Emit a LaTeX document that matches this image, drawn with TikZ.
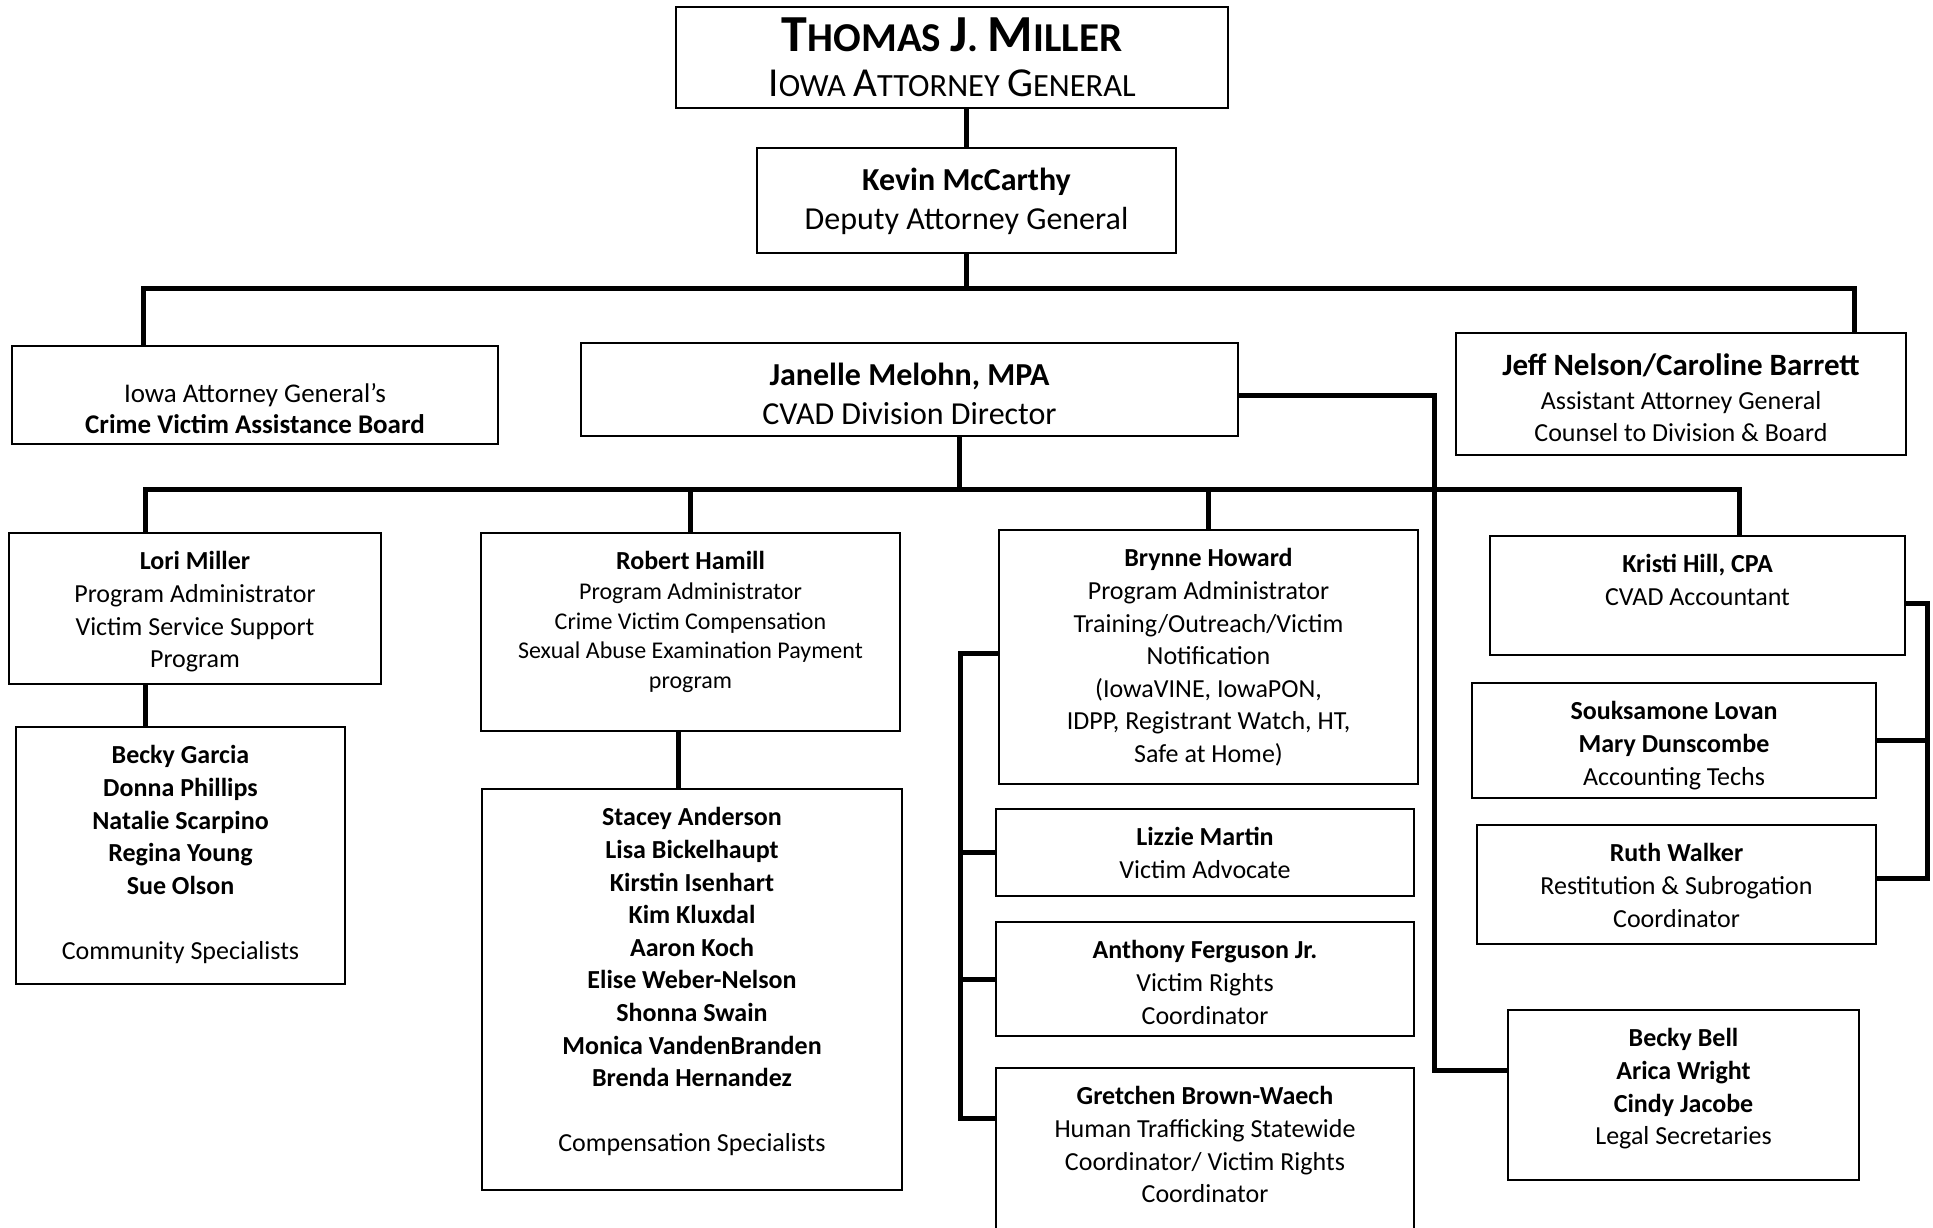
\documentclass[tikz,border=0pt]{standalone}
\usepackage{fontspec}
\setmainfont{Carlito}
\usetikzlibrary{fit,positioning}

\newcommand{\nm}[1]{\textbf{#1}}
\newcommand{\fsz}[2]{\fontsize{#1}{#2}\selectfont}

\begin{document}
\begin{tikzpicture}[x=0.5pt,y=-0.5pt,node distance=9.5pt,
	unit/.style={draw, line width=0.8pt, inner sep=0pt},
	txt/.style={align=center, inner sep=0pt, font=\fsz{13}{16.3}},
	link/.style={line width=2.5pt}]
	\useasboundingbox (0,0) rectangle (1933,1227);
	\clip (0,0) rectangle (1933,1227);
	% boxes
	\node[unit, fit={(676,7) (1228,108)}] (miller) {};
	\node[unit, fit={(757,148) (1176,253)}] (mccarthy) {};
	\node[unit, fit={(12,346) (498,444)}] (board) {};
	\node[unit, fit={(581,343) (1238,436)}] (janelle) {};
	\node[unit, fit={(1456,333) (1906,455)}] (jeff) {};
	\node[unit, fit={(9,533) (381,684)}] (lori) {};
	\node[unit, fit={(16,727) (345,984)}] (garcia) {};
	\node[unit, fit={(481,533) (900,731)}] (robert) {};
	\node[unit, fit={(482,789) (902,1190)}] (stacey) {};
	\node[unit, fit={(999,530) (1418,784)}] (brynne) {};
	\node[unit, fit={(996,809) (1414,896)}] (lizzie) {};
	\node[unit, fit={(996,922) (1414,1036)}] (anthony) {};
	\node[unit, fit={(996,1068) (1414,1240)}] (gretchen) {};
	\node[unit, fit={(1490,536) (1905,655)}] (kristi) {};
	\node[unit, fit={(1472,683) (1876,798)}] (souk) {};
	\node[unit, fit={(1477,825) (1876,944)}] (ruth) {};
	\node[unit, fit={(1508,1010) (1859,1180)}] (bell) {};
	% texts
	\node[txt, below=5.5pt of miller.north, font=\fsz{20.5}{22.8}] (miller-t)
		{\textbf{{\fontsize{26}{30}\selectfont T}HOMAS {\fontsize{26}{30}\selectfont J}. {\fontsize{26}{30}\selectfont M}ILLER}\\
		{\fsz{16.2}{22.8}{\fontsize{20.6}{24}\selectfont I}OWA {\fontsize{20.6}{24}\selectfont A}TTORNEY {\fontsize{20.6}{24}\selectfont G}ENERAL}};
	\node[txt, below=10pt of mccarthy.north, font=\fsz{16}{19.7}] (mccarthy-t)
		{\nm{Kevin McCarthy}\\Deputy Attorney General};
	\node[txt, below=19pt of board.north, font=\fsz{13.5}{15.5}] (board-t)
		{Iowa Attorney General’s\\\nm{Crime Victim Assistance Board}};
	\node[txt, below=10pt of janelle.north, font=\fsz{16}{19.5}] (janelle-t)
		{\nm{Janelle Melohn, MPA}\\CVAD Division Director};
	\node[txt, below=10.5pt of jeff.north, font=\fsz{13}{16}] (jeff-t)
		{{\fsz{15.5}{18}\nm{Jeff Nelson/Caroline Barrett}}\\[1.2pt]Assistant Attorney General\\Counsel to Division \& Board};
	\node[txt, below=of lori.north] (lori-t)
		{\nm{Lori Miller}\\Program Administrator\\Victim Service Support\\Program};
	\node[txt, below=of garcia.north] (garcia-t)
		{\nm{Becky Garcia}\\\nm{Donna Phillips}\\\nm{Natalie Scarpino}\\\nm{Regina Young}\\\nm{Sue Olson}\\[16.3pt]Community Specialists};
	\node[txt, below=of robert.north, font=\fsz{12}{14.8}] (robert-t)
		{{\fsz{13}{15.5}\nm{Robert Hamill}}\\Program Administrator\\Crime Victim Compensation\\Sexual Abuse Examination Payment\\program};
	\node[txt, below=of stacey.north] (stacey-t)
		{\nm{Stacey Anderson}\\\nm{Lisa Bickelhaupt}\\\nm{Kirstin Isenhart}\\\nm{Kim Kluxdal}\\\nm{Aaron Koch}\\\nm{Elise Weber-Nelson}\\\nm{Shonna Swain}\\\nm{Monica VandenBranden}\\\nm{Brenda Hernandez}\\[16.3pt]Compensation Specialists};
	\node[txt, below=of brynne.north] (brynne-t)
		{\nm{Brynne Howard}\\Program Administrator\\Training/Outreach/Victim\\Notification\\(IowaVINE, IowaPON,\\IDPP, Registrant Watch, HT,\\Safe at Home)};
	\node[txt, below=of lizzie.north] (lizzie-t)
		{\nm{Lizzie Martin}\\Victim Advocate};
	\node[txt, below=of anthony.north] (anthony-t)
		{\nm{Anthony Ferguson Jr.}\\Victim Rights\\Coordinator};
	\node[txt, below=of gretchen.north] (gretchen-t)
		{\nm{Gretchen Brown-Waech}\\Human Trafficking Statewide\\Coordinator/ Victim Rights\\Coordinator};
	\node[txt, below=of kristi.north] (kristi-t)
		{\nm{Kristi Hill, CPA}\\CVAD Accountant};
	\node[txt, below=of souk.north] (souk-t)
		{\nm{Souksamone Lovan}\\\nm{Mary Dunscombe}\\Accounting Techs};
	\node[txt, below=of ruth.north] (ruth-t)
		{\nm{Ruth Walker}\\Restitution \& Subrogation\\Coordinator};
	\node[txt, below=of bell.north] (bell-t)
		{\nm{Becky Bell}\\\nm{Arica Wright}\\\nm{Cindy Jacobe}\\Legal Secretaries};
	% connectors
	\coordinate (b1L) at (143,288);
	\coordinate (b1R) at (1854,288);
	\draw[link] (mccarthy.north) -- (mccarthy.north |- miller.south);
	\draw[link] (mccarthy.south) -- (mccarthy.south |- b1L);
	\draw[link] (board.north -| b1L) -- (b1L) -- (b1R) -- (b1R |- jeff.north);
	\coordinate (b2L) at (145,489);
	\coordinate (b2R) at (1739,489);
	\coordinate (jstem) at (959,489);
	\draw[link] (jstem |- janelle.south) -- (jstem);
	\draw[link] (b2L |- lori.north) -- (b2L) -- (b2R) -- (b2R |- kristi.north);
	\draw[link] (robert.north) -- (robert.north |- b2L);
	\draw[link] (brynne.north) -- (brynne.north |- b2L);
	\draw[link] (b2L |- lori.south) -- (b2L |- garcia.north);
	\coordinate (rs) at (678,760);
	\draw[link] (rs |- robert.south) -- (rs |- stacey.north);
	% program team
	\coordinate (bkA) at (960,653);
	\coordinate (bkD) at (960,1118);
	\draw[link] (brynne.west |- bkA) -- (bkA) -- (bkD) -- (gretchen.west |- bkD);
	\draw[link] (lizzie.west) -- (lizzie.west -| bkA);
	\draw[link] (anthony.west) -- (anthony.west -| bkA);
	% accounting
	\coordinate (rbA) at (1927,603);
	\coordinate (rbC) at (1927,878);
	\draw[link] (kristi.east |- rbA) -- (rbA) -- (rbC) -- (ruth.east |- rbC);
	\draw[link] (souk.east) -- (souk.east -| rbA);
	% legal
	\coordinate (jr) at (1434,395);
	\coordinate (jb) at (1434,1070);
	\draw[link] (janelle.east |- jr) -- (jr) -- (jb) -- (bell.west |- jb);
\end{tikzpicture}
\end{document}
